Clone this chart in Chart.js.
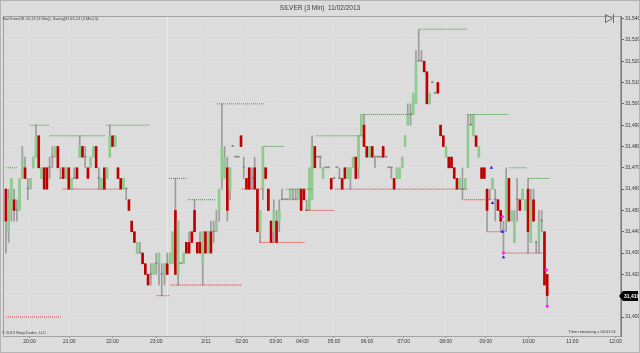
<!DOCTYPE html>
<html>
<head>
<meta charset="utf-8">
<script src="https://cdn.jsdelivr.net/npm/chart.js@4.4.0/dist/chart.umd.min.js"></script>
<style>
  html, body { margin: 0; padding: 0; background: #dcdcdc; }
  canvas { display: block; }
</style>
</head>
<body>
<canvas id="chart" width="640" height="353"></canvas>
<script>
// SI 03-13, 3 min bars (tick = 0.005)
const open = [
  31.460,31.440,31.450,31.455,31.450,31.450,31.465,31.470,31.460,31.460,
  31.470,31.475,31.485,31.465,31.470,31.470,31.470,31.475,31.475,31.480,
  31.465,31.470,31.465,31.470,31.460,31.465,31.470,31.475,31.480,31.475,
  31.470,31.470,31.475,31.480,31.465,31.460,31.470,31.465,31.475,31.485,
  31.480,31.470,31.465,31.460,31.460,31.455,31.445,31.440,31.430,31.430,
  31.430,31.425,31.420,31.420,31.420,31.425,31.425,31.420,31.420,31.425,
  31.425,31.425,31.450,31.420,31.425,31.425,31.435,31.435,31.440,31.450,
  31.435,31.435,31.425,31.440,31.430,31.440,31.440,31.440,31.450,31.465,
  31.465,31.470,31.460,31.480,31.475,31.475,31.485,31.470,31.465,31.470,
  31.465,31.470,31.460,31.440,31.460,31.470,31.460,31.445,31.440,31.445,
  31.445,31.455,31.455,31.455,31.455,31.455,31.455,31.455,31.460,31.460,
  31.450,31.450,31.455,31.480,31.475,31.475,31.465,31.470,31.470,31.465,
  31.465,31.470,31.465,31.465,31.470,31.465,31.465,31.470,31.475,31.470,
  31.485,31.490,31.480,31.475,31.480,31.475,31.475,31.475,31.480,31.475,
  31.470,31.470,31.465,31.465,31.465,31.470,31.480,31.490,31.495,31.495,
  31.500,31.520,31.520,31.520,31.515,31.500,31.510,31.505,31.510,31.490,
  31.485,31.475,31.475,31.475,31.470,31.465,31.460,31.460,31.460,31.470,
  31.490,31.485,31.485,31.475,31.470,31.470,31.460,31.455,31.460,31.455,
  31.455,31.450,31.440,31.445,31.465,31.445,31.435,31.455,31.455,31.455,
  31.450,31.460,31.435,31.455,31.435,31.435,31.445,31.440,31.420
];
const high = [
  31.460,31.460,31.465,31.460,31.455,31.465,31.480,31.475,31.465,31.465,
  31.475,31.490,31.485,31.470,31.470,31.470,31.475,31.480,31.480,31.480,
  31.470,31.470,31.470,31.470,31.465,31.470,31.470,31.485,31.480,31.480,
  31.470,31.475,31.480,31.480,31.470,31.465,31.470,31.470,31.490,31.485,
  31.485,31.470,31.465,31.465,31.460,31.455,31.445,31.440,31.435,31.435,
  31.430,31.425,31.420,31.425,31.425,31.430,31.430,31.425,31.425,31.430,
  31.430,31.440,31.465,31.445,31.425,31.430,31.435,31.440,31.440,31.455,
  31.435,31.440,31.440,31.440,31.440,31.445,31.445,31.450,31.460,31.500,
  31.480,31.475,31.470,31.480,31.475,31.475,31.485,31.475,31.465,31.470,
  31.470,31.475,31.460,31.450,31.480,31.470,31.460,31.445,31.455,31.450,
  31.455,31.460,31.455,31.455,31.460,31.460,31.460,31.460,31.460,31.460,
  31.455,31.470,31.485,31.480,31.475,31.475,31.470,31.470,31.470,31.465,
  31.465,31.470,31.470,31.465,31.470,31.470,31.470,31.475,31.475,31.485,
  31.495,31.495,31.480,31.480,31.480,31.475,31.475,31.475,31.480,31.475,
  31.470,31.470,31.465,31.470,31.470,31.475,31.485,31.500,31.500,31.505,
  31.525,31.535,31.525,31.520,31.515,31.505,31.510,31.505,31.510,31.490,
  31.485,31.480,31.475,31.475,31.470,31.465,31.465,31.470,31.465,31.495,
  31.495,31.495,31.485,31.480,31.470,31.470,31.460,31.460,31.465,31.460,
  31.455,31.450,31.445,31.470,31.465,31.450,31.450,31.465,31.455,31.460,
  31.455,31.465,31.460,31.460,31.435,31.450,31.450,31.440,31.420
];
const low = [
  31.430,31.435,31.445,31.445,31.445,31.450,31.465,31.465,31.455,31.460,
  31.470,31.475,31.470,31.465,31.460,31.460,31.465,31.470,31.475,31.470,
  31.465,31.465,31.465,31.460,31.460,31.465,31.465,31.475,31.475,31.470,
  31.465,31.470,31.475,31.470,31.460,31.460,31.460,31.465,31.475,31.480,
  31.480,31.465,31.460,31.460,31.455,31.450,31.440,31.435,31.430,31.430,
  31.425,31.420,31.415,31.415,31.420,31.420,31.415,31.410,31.415,31.420,
  31.425,31.425,31.420,31.415,31.425,31.425,31.430,31.430,31.435,31.440,
  31.430,31.430,31.415,31.430,31.430,31.430,31.435,31.440,31.445,31.460,
  31.465,31.445,31.455,31.480,31.475,31.475,31.480,31.465,31.460,31.460,
  31.460,31.460,31.440,31.435,31.455,31.465,31.450,31.435,31.435,31.435,
  31.440,31.455,31.455,31.455,31.455,31.455,31.455,31.455,31.450,31.455,
  31.450,31.450,31.455,31.470,31.475,31.470,31.465,31.470,31.470,31.460,
  31.465,31.470,31.465,31.460,31.465,31.465,31.460,31.470,31.465,31.465,
  31.485,31.480,31.475,31.475,31.475,31.470,31.475,31.475,31.475,31.475,
  31.470,31.465,31.460,31.465,31.465,31.470,31.480,31.490,31.490,31.495,
  31.500,31.520,31.520,31.515,31.500,31.500,31.510,31.505,31.505,31.485,
  31.480,31.475,31.470,31.470,31.465,31.460,31.460,31.455,31.460,31.470,
  31.490,31.485,31.480,31.475,31.465,31.465,31.440,31.455,31.460,31.445,
  31.450,31.440,31.430,31.440,31.445,31.445,31.435,31.445,31.450,31.455,
  31.450,31.430,31.435,31.445,31.430,31.430,31.440,31.415,31.405
];
const close = [
  31.445,31.455,31.465,31.450,31.450,31.465,31.475,31.465,31.460,31.465,
  31.475,31.485,31.470,31.470,31.460,31.460,31.470,31.475,31.480,31.470,
  31.465,31.465,31.470,31.460,31.465,31.465,31.465,31.480,31.475,31.475,
  31.465,31.475,31.480,31.470,31.465,31.465,31.460,31.470,31.485,31.480,
  31.485,31.465,31.460,31.465,31.460,31.450,31.440,31.435,31.435,31.430,
  31.425,31.420,31.415,31.420,31.425,31.425,31.430,31.420,31.425,31.420,
  31.430,31.440,31.420,31.445,31.425,31.430,31.430,31.430,31.435,31.440,
  31.430,31.430,31.440,31.430,31.440,31.430,31.440,31.445,31.460,31.480,
  31.475,31.450,31.470,31.480,31.475,31.475,31.480,31.470,31.460,31.460,
  31.465,31.460,31.440,31.450,31.480,31.465,31.450,31.435,31.450,31.435,
  31.450,31.455,31.455,31.455,31.460,31.455,31.455,31.460,31.450,31.455,
  31.450,31.470,31.480,31.470,31.475,31.475,31.470,31.470,31.470,31.460,
  31.465,31.470,31.465,31.460,31.465,31.470,31.470,31.475,31.465,31.485,
  31.495,31.480,31.475,31.480,31.475,31.475,31.475,31.475,31.475,31.475,
  31.470,31.470,31.460,31.470,31.470,31.475,31.485,31.495,31.495,31.505,
  31.520,31.520,31.520,31.515,31.500,31.505,31.510,31.505,31.505,31.485,
  31.480,31.480,31.470,31.470,31.465,31.460,31.465,31.460,31.465,31.490,
  31.490,31.495,31.480,31.480,31.465,31.465,31.450,31.455,31.465,31.455,
  31.450,31.445,31.440,31.465,31.445,31.450,31.445,31.455,31.450,31.460,
  31.455,31.440,31.455,31.445,31.435,31.445,31.445,31.415,31.410
];

// time axis: bar number where each hour label sits
const hourLabels = ['20:00','21:00','22:00','23:00','2/11','02:00','03:00','04:00',
                    '05:00','06:00','07:00','08:00','09:00','10:00','11:00','12:00'];
const hourBars = [8.6,23.2,39.0,55.0,73.2,86.3,98.7,108.5,120.0,132.1,145.5,160.9,175.5,191.2,207.2,223.0];
const priceTicks = [31.40,31.41,31.42,31.43,31.44,31.45,31.46,31.47,31.48,31.49,31.50,31.51,31.52,31.53,31.54];

// Swing(5) lines: from bar, to bar, price
const swingHighFrom  = [0, 8.7, 16, 36.8, 59.7, 66.6, 77.2, 94.6, 102.3, 113.6, 130.7, 151.4, 168.9, 184.2, 191.1];
const swingHighTo    = [4.4, 15.7, 36.4, 52.8, 66.3, 76.4, 94.3, 101.9, 112.1, 130.7, 148.9, 168.9, 183.8, 190.8, 199.1];
const swingHighPrice = [31.470, 31.490, 31.485, 31.490, 31.465, 31.455, 31.500, 31.480, 31.460, 31.485, 31.495, 31.535, 31.495, 31.470, 31.465];
const swingLowFrom   = [0, 20.7, 55, 60.1, 86.3, 92.8, 109.6, 120.5, 167.5, 176.2, 182];
const swingLowTo     = [20.4, 41.5, 60.1, 86.3, 94.3, 109.2, 120.1, 168.9, 176.9, 181.7, 197.7];
const swingLowPrice  = [31.400, 31.460, 31.410, 31.415, 31.460, 31.435, 31.450, 31.460, 31.455, 31.440, 31.430];

// trade markers near the end
const buyBars   = [177.6, 178, 181.6, 182];
const buyPrice  = [31.470, 31.4535, 31.440, 31.428];
const sellBars  = [181.6, 182, 197.7, 198];
const sellPrice = [31.447, 31.430, 31.422, 31.405];

const sessionBreaks = [59];

const GREEN = '#8fca8f', RED = '#bf0000', DOJI = '#8c8c8c', WICK = '#9c9c9c';
const FONT = '"Liberation Sans", Arial, sans-serif';

const bodyColors = open.map((o, i) => close[i] > o ? GREEN : (close[i] < o ? RED : DOJI));

function segments(from, to, price) {
  const pts = [];
  from.forEach((f, i) => {
    pts.push({x: f, y: price[i]}, {x: to[i], y: price[i]}, {x: to[i], y: null});
  });
  return pts;
}

const chartDeco = {
  id: 'chartDeco',
  beforeDraw(chart) {
    const {ctx, chartArea: a, scales: {x}} = chart;
    ctx.save();
    ctx.fillStyle = '#dcdcdc';
    ctx.fillRect(0, 0, chart.width, chart.height);
    ctx.strokeStyle = 'rgba(240,240,240,0.7)';
    ctx.lineWidth = 1;
    sessionBreaks.forEach(b => {
      const px = Math.round(x.getPixelForValue(b)) + 0.5;
      ctx.beginPath(); ctx.moveTo(px, a.top); ctx.lineTo(px, a.bottom); ctx.stroke();
    });
    ctx.restore();
  },
  afterDraw(chart) {
    const {ctx, chartArea: a, scales: {y}} = chart;
    ctx.save();
    ctx.lineWidth = 1;
    ctx.strokeStyle = '#a2a2a2';
    ctx.strokeRect(a.left - 0.5, a.top + 0.5, a.right - a.left, a.bottom - a.top);
    ctx.strokeStyle = '#b4b4b4';
    ctx.strokeRect(0.5, 0.5, chart.width - 1, chart.height - 1);

    ctx.fillStyle = '#3a3a3a';
    ctx.textBaseline = 'middle';
    ctx.textAlign = 'center';
    ctx.font = '6.5px ' + FONT;
    ctx.fillText('SILVER (3 Min)  11/02/2013', 320, 8);

    ctx.textAlign = 'left';
    ctx.font = '4px ' + FONT;
    ctx.fillText('BarTimer(SI 03-13 (3 Min)), Swing(SI 03-13 (3 Min),5)', 3, 19);
    ctx.fillText('\u00a9 2013 NinjaTrader, LLC', 2, 333);
    ctx.textAlign = 'right';
    ctx.fillText('Time remaining = 00:01:01', 616, 332);

    // chart trader toggle icon
    ctx.strokeStyle = '#6a6a6a';
    ctx.beginPath();
    ctx.moveTo(605.5, 14.5); ctx.lineTo(612.5, 18.5); ctx.lineTo(605.5, 22.5); ctx.closePath();
    ctx.moveTo(613.5, 14); ctx.lineTo(613.5, 23);
    ctx.stroke();

    // last price marker on the price axis
    const last = close[close.length - 1];
    const py = Math.round(y.getPixelForValue(last));
    ctx.fillStyle = '#000';
    ctx.beginPath();
    ctx.moveTo(a.right - 2, py);
    ctx.lineTo(a.right + 2, py - 5);
    ctx.lineTo(chart.width - 2, py - 5);
    ctx.lineTo(chart.width - 2, py + 5);
    ctx.lineTo(a.right + 2, py + 5);
    ctx.closePath();
    ctx.fill();
    ctx.fillStyle = '#fff';
    ctx.textAlign = 'left';
    ctx.font = 'bold 5px ' + FONT;
    ctx.fillText(last.toFixed(3).replace('.', ','), a.right + 3, py + 0.5);
    ctx.restore();
  }
};

new Chart(document.getElementById('chart'), {
  type: 'bar',
  data: {
    datasets: [
      {
        type: 'scatter', label: 'buy',
        data: buyBars.map((b, i) => ({x: b, y: buyPrice[i]})),
        pointStyle: 'triangle', pointRadius: 2, backgroundColor: '#1a1aff', borderColor: '#1a1aff', borderWidth: 0
      },
      {
        type: 'scatter', label: 'sell',
        data: sellBars.map((b, i) => ({x: b, y: sellPrice[i]})),
        pointStyle: 'rectRot', pointRadius: 2, backgroundColor: '#ff22ff', borderColor: '#ff22ff', borderWidth: 0
      },
      {
        type: 'line', label: 'swing high',
        data: segments(swingHighFrom, swingHighTo, swingHighPrice),
        borderColor: '#3f8f3f', borderWidth: 1, borderDash: [1, 1], pointRadius: 0, spanGaps: false, tension: 0
      },
      {
        type: 'line', label: 'swing low',
        data: segments(swingLowFrom, swingLowTo, swingLowPrice),
        borderColor: '#e02a2a', borderWidth: 1, borderDash: [1, 1], pointRadius: 0, spanGaps: false, tension: 0
      },
      {
        label: 'body',
        data: open.map((o, i) => ({x: i, y: [o, close[i]]})),
        backgroundColor: bodyColors, borderWidth: 0, barThickness: 2, minBarLength: 1, grouped: false
      },
      {
        label: 'wick',
        data: open.map((o, i) => ({x: i, y: [low[i], high[i]]})),
        backgroundColor: WICK, borderWidth: 0, barThickness: 1, grouped: false
      }
    ]
  },
  options: {
    responsive: false,
    animation: false,
    devicePixelRatio: 1,
    layout: { padding: { top: 16, left: 1, right: 0, bottom: 0 } },
    plugins: { legend: { display: false }, tooltip: { enabled: false }, title: { display: false } },
    scales: {
      x: {
        type: 'linear', min: -0.7, max: 225, offset: false,
        afterBuildTicks: s => { s.ticks = hourBars.map(v => ({value: v})); },
        afterFit: s => { s.height = 17; },
        grid: { offset: false, color: 'rgba(235,235,235,0.3)', tickColor: '#8a8a8a', tickLength: 2 },
        border: { color: '#8a8a8a' },
        ticks: {
          autoSkip: false, maxRotation: 0, padding: 1, color: '#333',
          font: { size: 5, family: FONT },
          callback: (v, i) => hourLabels[i]
        }
      },
      y: {
        type: 'linear', position: 'right', min: 31.3911, max: 31.5412,
        afterBuildTicks: s => { s.ticks = priceTicks.map(v => ({value: v})); },
        afterFit: s => { s.width = 19; },
        grid: { color: 'rgba(235,235,235,0.3)', tickColor: '#6a6a6a', tickLength: 3 },
        border: { color: '#7a7a7a' },
        ticks: {
          autoSkip: false, padding: 1, color: '#333',
          font: { size: 5, family: FONT },
          callback: v => v.toFixed(3).replace('.', ',')
        }
      }
    }
  },
  plugins: [chartDeco]
});
</script>
</body>
</html>
